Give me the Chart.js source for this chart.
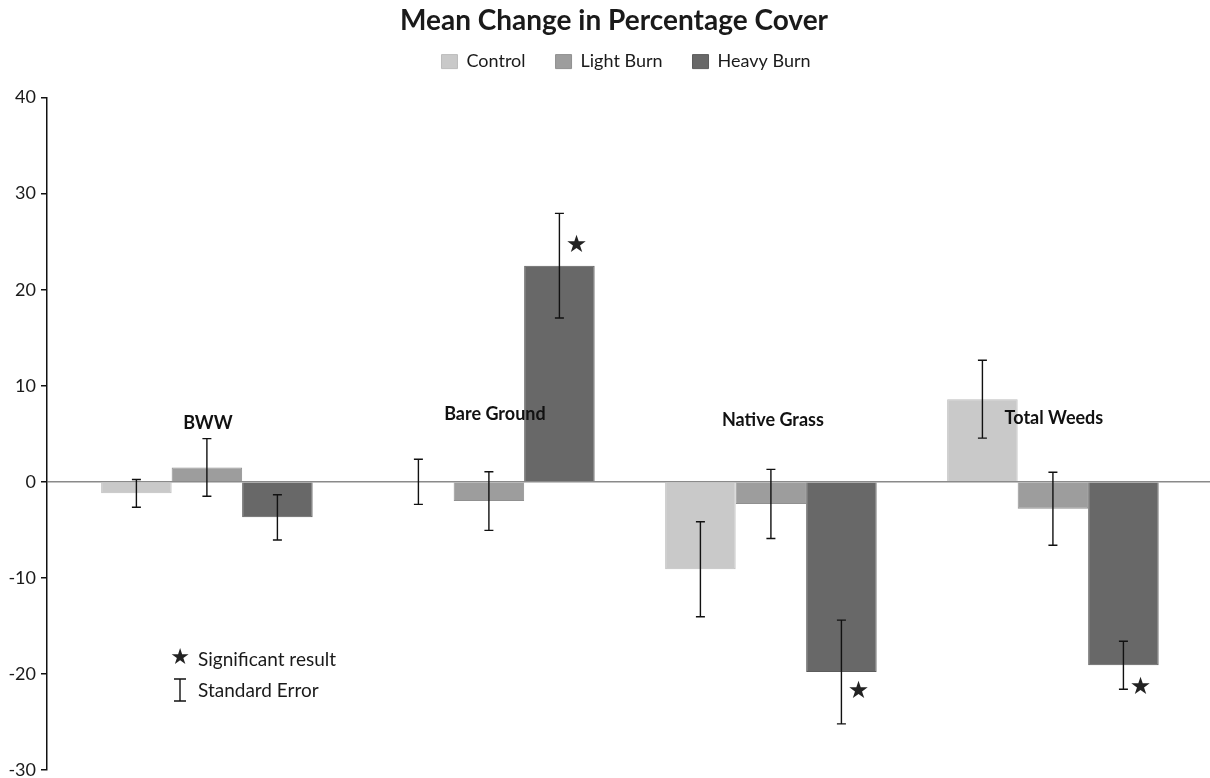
<!DOCTYPE html>
<html lang="en">
<head>
  <meta charset="UTF-8" />
  <title>Mean Change in Percentage Cover</title>
  <script src="https://cdn.jsdelivr.net/npm/chart.js"></script>
  <style>
    html, body {
      margin: 0;
      padding: 0;
      background: #fff;
    }

    #contenedor {
      width: 1210px;
      height: 778px;
      position: relative;
    }
  </style>
</head>
<body>
  <div id="contenedor">
    <canvas id="grafico"></canvas>
  </div>

  <script>
    // datos
    const categorias = ["BWW", "Bare Ground", "Native Grass", "Total Weeds"];
    const series = ["Control", "Light Burn", "Heavy Burn"];
    const control = [-1.2, 0, -9.1, 8.6];
    const lightBurn = [1.5, -2.0, -2.3, -2.8];
    const heavyBurn = [-3.7, 22.5, -19.8, -19.1];
    const errControl = [1.45, 2.35, 4.95, 4.05];
    const errLight = [3.0, 3.05, 3.6, 3.8];
    const errHeavy = [2.35, 5.45, 5.4, 2.5];
    const estrellas = [null, 24.6, -21.9, -21.4];
    const yTicks = [-30, -20, -10, 0, 10, 20, 30, 40];

    const colores = ["#c9c9c9", "#9d9d9d", "#686868"];
    const bordes = ["#bdbdbd", "#909090", "#5c5c5c"];
    const errores = [errControl, errLight, errHeavy];
    const fuente = "Lato, 'Open Sans', sans-serif";

    const toPoints = arr => arr.map((v, i) => ({ x: i, y: v }));

    // leyenda: mas separacion horizontal sin crecer en vertical
    const legendGap = {
      id: "legendGap",
      beforeInit(chart) {
        const fitOriginal = chart.legend.fit;
        chart.legend.fit = function fit() {
          fitOriginal.bind(chart.legend)();
          this.height -= 3;
        };
      },
      afterLayout(chart) {
        chart.titleBlock.left += 9;
        chart.titleBlock.right += 9;
        chart.legend.left += 21;
        chart.legend.right += 21;
        chart.legend.top -= 20;
        chart.legend.bottom -= 20;
      }
    };

    // barras de error, estrellas, etiquetas y leyenda interna
    const extras = {
      id: "extras",
      afterDatasetsDraw(chart) {
        const ctx = chart.ctx;
        const y = chart.scales.y;
        const x = chart.scales.x;
        const area = chart.chartArea;

        ctx.save();
        ctx.strokeStyle = "#111";
        ctx.lineWidth = 1.4;
        chart.data.datasets.forEach((ds, d) => {
          const meta = chart.getDatasetMeta(d);
          meta.data.forEach((bar, i) => {
            const v = ds.data[i].y;
            const e = errores[d][i];
            const yTop = y.getPixelForValue(v + e);
            const yBot = y.getPixelForValue(v - e);
            ctx.beginPath();
            ctx.moveTo(bar.x, yTop);
            ctx.lineTo(bar.x, yBot);
            ctx.moveTo(bar.x - 4.5, yTop);
            ctx.lineTo(bar.x + 4.5, yTop);
            ctx.moveTo(bar.x - 4.5, yBot);
            ctx.lineTo(bar.x + 4.5, yBot);
            ctx.stroke();
          });
        });

        // estrellas de significancia
        const metaHeavy = chart.getDatasetMeta(2);
        ctx.fillStyle = "#222";
        ctx.font = "24px 'DejaVu Sans', sans-serif";
        ctx.textAlign = "center";
        ctx.textBaseline = "middle";
        estrellas.forEach((v, i) => {
          if (v === null) return;
          ctx.fillText("\u2605", metaHeavy.data[i].x + 17, y.getPixelForValue(v));
        });

        // nombres de categoria dentro del grafico
        const alturas = [6.1, 7.0, 6.4, 6.6];
        const corrimiento = [1, 6, 2, 1];
        ctx.fillStyle = "#111";
        ctx.font = "bold 18px " + fuente;
        categorias.forEach((c, i) => {
          ctx.fillText(c, x.getPixelForValue(i) + corrimiento[i], y.getPixelForValue(alturas[i]));
        });

        // leyenda de simbolos
        const lx = area.left + 133;
        ctx.fillStyle = "#222";
        ctx.font = "22px 'DejaVu Sans', sans-serif";
        ctx.fillText("\u2605", lx, 658);
        ctx.beginPath();
        ctx.moveTo(lx, 679);
        ctx.lineTo(lx, 701);
        ctx.moveTo(lx - 6, 679);
        ctx.lineTo(lx + 6, 679);
        ctx.moveTo(lx - 6, 701);
        ctx.lineTo(lx + 6, 701);
        ctx.stroke();
        ctx.textAlign = "left";
        ctx.fillStyle = "#1a1a1a";
        ctx.font = "19px " + fuente;
        ctx.fillText("Significant result", lx + 18, 660);
        ctx.fillText("Standard Error", lx + 18, 691);
        ctx.restore();
      }
    };

    new Chart(document.getElementById("grafico"), {
      type: "bar",
      data: {
        datasets: [control, lightBurn, heavyBurn].map((serie, d) => ({
          label: series[d],
          data: toPoints(serie),
          backgroundColor: colores[d],
          borderColor: bordes[d],
          borderWidth: 1,
          categoryPercentage: 0.75,
          barPercentage: 1.0
        }))
      },
      options: {
        responsive: true,
        maintainAspectRatio: false,
        animation: false,
        layout: { padding: { left: 0, right: 0, top: 0, bottom: 8 } },
        plugins: {
          title: {
            display: true,
            text: "Mean Change in Percentage Cover",
            color: "#1a1a1a",
            font: { family: fuente, size: 28, weight: "bold" },
            padding: { top: 4, bottom: 5 }
          },
          legend: {
            position: "top",
            labels: {
              color: "#1a1a1a",
              boxWidth: 16,
              boxHeight: 14,
              padding: 30,
              font: { family: fuente, size: 18 }
            }
          },
          tooltip: { enabled: false }
        },
        scales: {
          x: {
            type: "linear",
            display: false,
            offset: false,
            min: -0.567,
            max: 3.557,
            afterBuildTicks(scale) { scale.ticks = categorias.map((c, i) => ({ value: i })); },
            grid: { display: false }
          },
          y: {
            min: yTicks[0],
            max: yTicks[yTicks.length - 1],
            afterFit(scale) {
              scale.width = 47;
              scale.paddingTop = 0;
              scale.paddingBottom = 0;
            },
            afterBuildTicks(scale) { scale.ticks = yTicks.map(v => ({ value: v })); },
            border: { display: true, color: "#111", width: 1.5 },
            grid: {
              drawOnChartArea: true,
              color: c => (c.tick && c.tick.value === 0 ? "#8a8a8a" : "rgba(0,0,0,0)"),
              lineWidth: 1.5,
              tickColor: "#111",
              tickLength: 6
            },
            ticks: {
              color: "#1a1a1a",
              padding: 5,
              font: { family: fuente, size: 18 }
            }
          }
        }
      },
      plugins: [legendGap, extras]
    });
  </script>
</body>
</html>
